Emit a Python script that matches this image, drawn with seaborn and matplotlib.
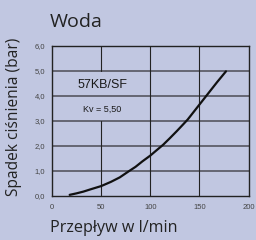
import matplotlib
matplotlib.use("Agg")
import matplotlib.pyplot as plt
import seaborn as sns
import pandas as pd

flow = [18, 25, 32, 40, 50, 60, 69, 78, 85, 92, 100, 106, 113, 120, 127,
        133, 138, 144, 150, 156, 162, 168, 177]
pressure = [0.03, 0.09, 0.16, 0.26, 0.38, 0.55, 0.73, 0.97, 1.15, 1.37, 1.6, 1.8,
            2.03, 2.3, 2.58, 2.83, 3.04, 3.34, 3.64, 3.94, 4.24, 4.54, 4.97]
x_ticks = [0, 50, 100, 150, 200]
y_ticks = [0, 1, 2, 3, 4, 5, 6]
y_tick_labels = ["0,0", "1,0", "2,0", "3,0", "4,0", "5,0", "6,0"]

df = pd.DataFrame({"flow": flow, "pressure": pressure})

bg = "#c1c7e1"
sns.set_theme(style="white")
plt.rcParams["font.family"] = ["Liberation Sans", "DejaVu Sans"]

fig = plt.figure(figsize=(2.56, 2.40), dpi=100, facecolor=bg)
ax = fig.add_axes([0.203, 0.185, 0.768, 0.625])
ax.set_facecolor(bg)

# grid
for y in y_ticks[1:-1]:
    ax.axhline(y, color="#5e5e6a", lw=1.3, zorder=1)
ax.axvline(50, ymin=0, ymax=0.5, color="#222222", lw=0.8, zorder=1)
ax.axvline(50, ymin=5 / 6, ymax=1, color="#222222", lw=0.8, zorder=1)
for x in [100, 150]:
    ax.axvline(x, color="#222222", lw=0.8, zorder=1)

sns.lineplot(data=df, x="flow", y="pressure", ax=ax, color="#111111", lw=1.6, zorder=3)

ax.set_xlim(0, 200)
ax.set_ylim(0, 6)
ax.set_xticks(x_ticks)
ax.set_xticklabels([str(t) for t in x_ticks], fontsize=5.5, color="#444444")
ax.set_yticks(y_ticks)
ax.set_yticklabels(y_tick_labels, fontsize=5.5, color="#444444")
ax.tick_params(axis="y", length=3, width=0.8, color="#222222", pad=2)
ax.tick_params(axis="x", length=2, width=0.8, color="#222222", pad=4)
for s in ax.spines.values():
    s.set_color("#222222")
    s.set_linewidth(1.0)

ax.text(51, 4.44, "57KB/SF", ha="center", va="center", fontsize=9, color="#1a1a1a")
ax.text(51, 3.44, "Kv = 5,50", ha="center", va="center", fontsize=6.5, color="#1a1a1a")

ax.set_xlabel("")
ax.set_ylabel("")
fig.text(0.193, 0.8875, "Woda", fontsize=14, family=["Open Sans", "DejaVu Sans"],
         color="#222222", ha="left", va="baseline")
fig.text(0.197, 0.032, "Przepływ w l/min", fontsize=11.6, family=["Open Sans", "DejaVu Sans"],
         color="#222222", ha="left", va="baseline")
fig.text(0.055, 0.515, "Spadek ciśnienia (bar)", fontsize=11.2, family=["Open Sans", "DejaVu Sans"],
         color="#222222", ha="center", va="center", rotation=90)

fig.savefig("out.png", dpi=100, facecolor=bg)
